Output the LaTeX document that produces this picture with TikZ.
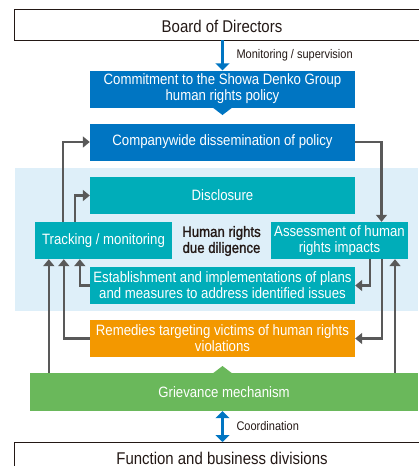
\documentclass[tikz,border=0pt]{standalone}
\usepackage{fontspec}
\setmainfont{Liberation Sans}[FakeStretch=0.88]
\newfontfamily\medfont{Liberation Sans}[FakeStretch=0.88, FakeBold=1.2]
\usepackage{xcolor}
\usetikzlibrary{arrows.meta}
\definecolor{sdblue}{HTML}{0075C2}
\definecolor{sdteal}{HTML}{00ADB9}
\definecolor{sdorange}{HTML}{F39800}
\definecolor{sdgreen}{HTML}{6AB85B}
\definecolor{sdback}{HTML}{DEEFF9}
\definecolor{sdgray}{HTML}{595959}
\definecolor{sdink}{HTML}{231815}
\tikzset{
  box/.style={rectangle, inner sep=0pt, align=center, text=white,
    font=\fontsize{15}{16}\selectfont},
  wide/.style={box, minimum width=265pt, minimum height=37pt},
  half/.style={box, minimum width=137pt, minimum height=37pt},
  flow/.style={sdgray, line width=2.6pt, -{Triangle[width=11pt,length=7pt]}},
  blueline/.style={sdblue, line width=3pt},
  note/.style={text=sdink, font=\fontsize{12.5}{14}\selectfont, anchor=west}
}
\begin{document}
\begin{tikzpicture}[x=1pt, y=-1pt]
\useasboundingbox (0,0) rectangle (418,466);
% frames top and bottom
\draw[sdink, line width=1pt] (14,9) rectangle (440,40);
\node[text=sdink, font=\fontsize{17}{18}\selectfont] (board) at (222,26) {Board of Directors};
\draw[sdink, line width=1pt] (14,442) rectangle (440,490);
\node[text=sdink, font=\fontsize{17}{18}\selectfont] (func) at (222,458.5) {Function and business divisions};
\coordinate (boardb) at (222.5,40);
\coordinate (funct) at (222.5,442);
% due diligence area
\fill[sdback] (15,168) rectangle (418,311);
\node[wide, fill=sdblue] (commit) at (222.5,89) {Commitment to the Showa Denko Group\\human rights policy};
\fill[sdblue] (212,107) -- (233,107) -- (222.5,115) -- cycle;
\node[wide, fill=sdblue] (dissem) at (222.5,142) {Companywide dissemination of policy};
\node[wide, fill=sdteal] (disc) at (222.5,195.5) {Disclosure};
\node[half, fill=sdteal] (track) at (103.5,240.5) {Tracking / monitoring};
\node[half, fill=sdteal] (assess) at (339.5,240.5) {Assessment of human\\rights impacts};
\node[box, text=sdink, font=\medfont\fontsize{15}{16}\selectfont] (hrdd) at (221.5,241) {Human rights\\due diligence};
\node[wide, fill=sdteal] (estab) at (222.5,285.5) {Establishment and implementations of plans\\and measures to address identified issues};
\node[wide, fill=sdorange] (remedy) at (222.5,338.5) {Remedies targeting victims of human rights\\violations};
\node[box, fill=sdgreen, minimum width=388pt, minimum height=38pt] (griev) at (224,392) {Grievance mechanism};
\fill[sdgreen] (212,374) -- (233,374) -- (222.5,366) -- cycle;
% blue links
\draw[blueline, -{Triangle[width=14pt,length=7pt]}] (boardb) -- (commit.north);
\node[note] (monlbl) at (233,55) {Monitoring / supervision};
\draw[blueline, {Triangle[width=14pt,length=7pt]}-{Triangle[width=14pt,length=7pt]}] (griev.south -| boardb) -- (funct);
\node[note] (coordlbl) at (233,426) {Coordination};
% cycle of due diligence
\draw[flow] ([xshift=28]track.north west) |- (dissem.west);
\draw[flow] ([xshift=40]track.north west) |- (disc.west);
\draw[flow] (dissem.east) -| ([xshift=42]assess.north);
\draw[flow] ([xshift=30.5]assess.south) |- (estab.east);
\draw[flow] ([xshift=42.5]assess.south) |- (remedy.east);
\draw[flow] (estab.west) -| ([xshift=45]track.south west);
\draw[flow] (remedy.west) -| ([xshift=29]track.south west);
\draw[flow] ([xshift=14]track.south west |- griev.north) -- ([xshift=14]track.south west);
\draw[flow] ([xshift=55.5]assess.south |- griev.north) -- ([xshift=55.5]assess.south);
\end{tikzpicture}
\end{document}
